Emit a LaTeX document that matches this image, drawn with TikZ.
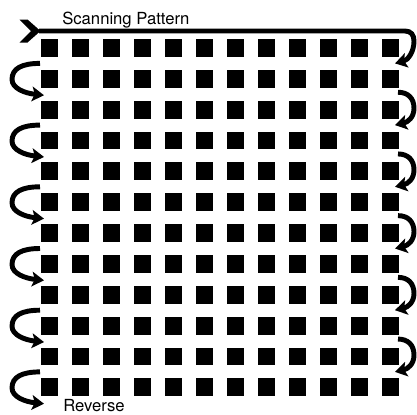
\documentclass[tikz,border=0pt]{standalone}
\usepackage{fontspec}
\setmainfont{TeX Gyre Heros}
\usetikzlibrary{arrows.meta,calc}
\tikzset{
  dot/.style={fill=black,inner sep=0pt,minimum size=13.4pt},
  scan/.style={line width=3.7pt},
  turn/.style={scan,-{Stealth[length=9pt,width=11pt,inset=2pt]}},
  txt/.style={inner sep=0pt,anchor=base west,font=\fontsize{12.5}{15}\selectfont}
}
\begin{document}
\begin{tikzpicture}[x=0.75pt,y=-0.75pt]
\useasboundingbox (0,0) rectangle (417,414);
% grid of pixels
\foreach \r in {1,...,12}
  \foreach \c in {1,...,12}
    \node[dot] (p-\r-\c) at ({49.5+31*(\c-1)},{48+30.85*(\r-1)}) {};
% titles
\node[txt] (title) at (62,24.5) {Scanning Pattern};
\node[txt] (reverse) at (63,411) {Reverse};
% start of the scan
\fill (19.5,19.5) -- (27.5,19.5) -- (40.5,31) -- (27.5,42.5) -- (19.5,42.5) -- (31,31) -- cycle;
\coordinate (start) at (39,31);
\coordinate (corner) at (405,31);
\coordinate (re0) at (395,63.4);
\draw[turn] (start) -- (corner) .. controls (411,31) and (414,35) .. (414,41)
  .. controls (414,52) and (408,60) .. (re0);
% left turns
\foreach \k in {1,3,...,11}{
  \pgfmathsetmacro\ya{63.4+30.85*(\k-1)}
  \pgfmathsetmacro\yb{\ya+30.85}
  \coordinate (ls\k) at (40,\ya);
  \coordinate (le\k) at (44,\yb+1);
  \draw[turn] (ls\k) .. controls (22,\ya) and (12,\ya+5) .. (12,\ya+16)
    .. controls (12,\ya+25) and (25,\yb-1) .. (le\k);
}
% right turns
\foreach \k in {2,4,...,10}{
  \pgfmathsetmacro\ya{63.4+30.85*(\k-1)}
  \pgfmathsetmacro\yb{\ya+30.85}
  \coordinate (rs\k) at (398,\ya-2);
  \coordinate (re\k) at (395,\yb);
  \draw[turn] (rs\k) .. controls (408,\ya-2) and (414,\ya+4) .. (414,\ya+14)
    .. controls (414,\ya+23) and (408,\yb-3) .. (re\k);
}
\end{tikzpicture}
\end{document}
